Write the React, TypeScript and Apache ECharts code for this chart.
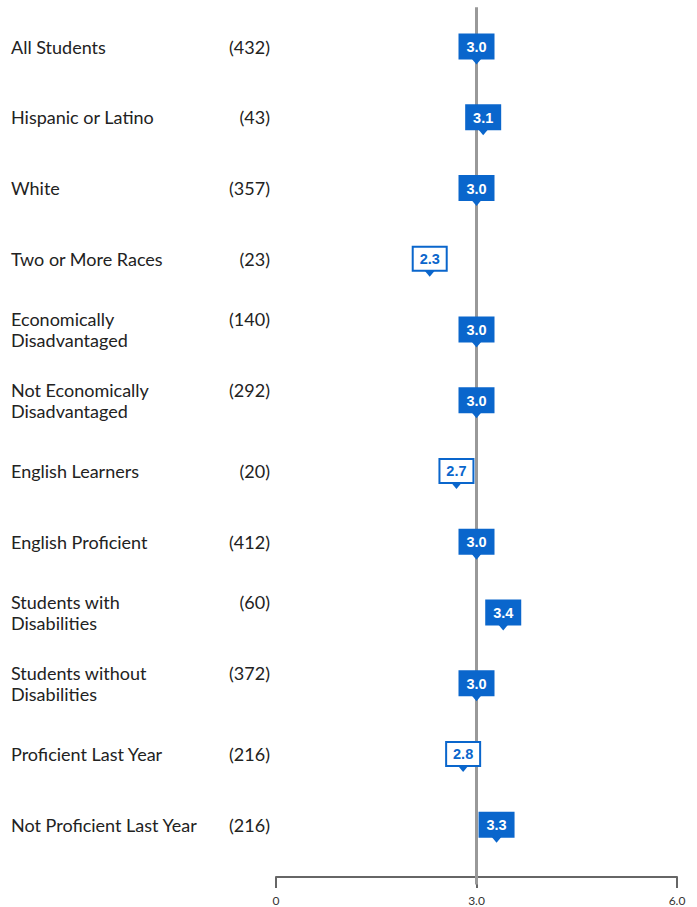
import React, { useEffect, useRef } from "react";
import * as echarts from "echarts";

const groupNames: string[] = [
  "All Students",
  "Hispanic or Latino",
  "White",
  "Two or More Races",
  "Economically\nDisadvantaged",
  "Not Economically\nDisadvantaged",
  "English Learners",
  "English Proficient",
  "Students with\nDisabilities",
  "Students without\nDisabilities",
  "Proficient Last Year",
  "Not Proficient Last Year",
];
const groupCounts: number[] = [432, 43, 357, 23, 140, 292, 20, 412, 60, 372, 216, 216];
const scores: number[] = [3.0, 3.1, 3.0, 2.3, 3.0, 3.0, 2.7, 3.0, 3.4, 3.0, 2.8, 3.3];
const referenceValue = 3.0;
const axisMin = 0;
const axisMax = 6;
const axisInterval = 3;

const BLUE = "#0a66cc";

export default function App() {
  const ref = useRef<HTMLDivElement>(null);
  useEffect(() => {
    if (!ref.current) return;
    const chart = echarts.init(ref.current, undefined, { renderer: "svg" });
    const categories = groupNames.map((_, i) => String(i));

    const option: any = {
      animation: false,
      grid: { left: 276, right: 20, top: 11.2, bottom: 907 - 860.0, containLabel: false },
      xAxis: {
        type: "value",
        min: axisMin,
        max: axisMax,
        interval: axisInterval,
        position: "bottom",
        offset: 17,
        axisLine: { show: true, lineStyle: { color: "#666", width: 2 } },
        axisTick: { show: true, length: 11, lineStyle: { color: "#666", width: 2 } },
        splitLine: { show: false },
        axisLabel: {
          margin: 17,
          fontFamily: "Lato",
          fontSize: 12,
          color: "#333",
          formatter: (v: number) => (v === 0 ? "0" : v.toFixed(1)),
        },
      },
      yAxis: {
        type: "category",
        data: categories,
        inverse: true,
        axisLine: { show: false },
        axisTick: { show: false },
        splitLine: { show: false },
        axisLabel: {
          interval: 0,
          align: "left",
          margin: 265,
          fontFamily: "Lato",
          fontSize: 18,
          color: "#222",
          lineHeight: 21,
          formatter: (val: string) => {
            const i = Number(val);
            const lines = groupNames[i].split("\n");
            const first = `{name|${lines[0]}}{count|(${groupCounts[i]})}`;
            const rest = lines.slice(1).map((l) => `{name|${l}}`);
            return [first, ...rest].join("\n");
          },
          rich: {
            name: { width: 210, align: "left", fontFamily: "Lato", fontSize: 18, color: "#222", lineHeight: 21 },
            count: { width: 49, align: "right", fontFamily: "Lato", fontSize: 18, color: "#222", lineHeight: 21 },
          },
        },
      },
      series: [
        {
          type: "custom",
          name: "reference",
          data: [[referenceValue, 0]],
          silent: true,
          z: 1,
          renderItem: (params: any, api: any) => {
            const x = api.coord([api.value(0), 0])[0];
            const cs = params.coordSys;
            return {
              type: "line",
              shape: { x1: x, y1: cs.y - 4, x2: x, y2: cs.y + cs.height + 24.5 },
              style: { stroke: "#999", lineWidth: 3 },
            };
          },
        },
        {
          type: "custom",
          name: "scores",
          data: scores.map((v, i) => [v, i]),
          z: 5,
          renderItem: (params: any, api: any) => {
            const v = api.value(0);
            const p = api.coord([v, api.value(1)]);
            const filled = v >= referenceValue;
            const w = 36;
            const h = 26;
            const bx = p[0] - w / 2;
            const by = p[1] - h / 2;
            return {
              type: "group",
              children: [
                {
                  type: "polygon",
                  shape: {
                    points: [
                      [p[0] - 5, by + h - 1],
                      [p[0] + 5, by + h - 1],
                      [p[0], by + h + 5],
                    ],
                  },
                  style: { fill: BLUE },
                },
                {
                  type: "rect",
                  shape: filled
                    ? { x: bx, y: by, width: w, height: h }
                    : { x: bx + 1, y: by + 1, width: w - 2, height: h - 2 },
                  style: filled
                    ? { fill: BLUE }
                    : { fill: "#fff", stroke: BLUE, lineWidth: 2 },
                },
                {
                  type: "text",
                  x: p[0],
                  y: p[1] + 0.5,
                  style: {
                    text: v.toFixed(1),
                    fill: filled ? "#fff" : BLUE,
                    font: "bold 14.5px 'Liberation Sans', Arial, sans-serif",
                    align: "center",
                    verticalAlign: "middle",
                  },
                },
              ],
            };
          },
        },
      ],
    };
    chart.setOption(option);
    return () => chart.dispose();
  }, []);
  return (
    <div
      ref={ref}
      style={{ position: "fixed", left: 0, top: 0, width: 697, height: 907, background: "#fff" }}
    />
  );
}
